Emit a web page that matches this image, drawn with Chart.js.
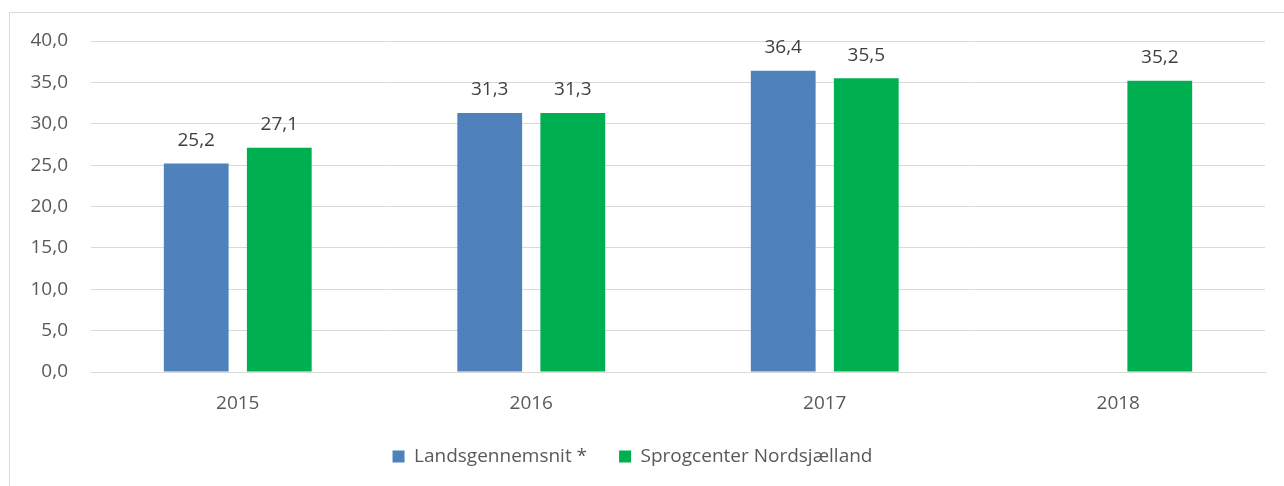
<!DOCTYPE html>
<html>
<head>
<meta charset="utf-8">
<script src="https://cdn.jsdelivr.net/npm/chart.js@4/dist/chart.umd.min.js"></script>
<style>
  html, body { margin: 0; padding: 0; background: #fff; }
  #wrap { position: relative; width: 1284px; height: 486px; overflow: hidden; }
  #frame { position: absolute; left: 9px; top: 12px; width: 1400px; height: 600px; border: 1px solid #d9d9d9; }
  #myBarChart { position: absolute; left: 0; top: 0; }
</style>
</head>
<body>
<div id="wrap">
  <div id="frame"></div>
  <canvas id="myBarChart" width="1284" height="486"></canvas>
</div>
<script>
// chart data
const years = ['2015', '2016', '2017', '2018'];
const landsgennemsnit = [25.2, 31.3, 36.4, null];
const sprogcenter = [27.1, 31.3, 35.5, 35.2];
const yTicks = [0, 5, 10, 15, 20, 25, 30, 35, 40];

const fmt = v => v.toFixed(1).replace('.', ',');
const fontFamily = '"Open Sans", "Noto Sans", sans-serif';

// labels over the bars
const valueLabels = {
  id: 'valueLabels',
  afterDatasetsDraw(chart) {
    const ctx = chart.ctx;
    ctx.save();
    ctx.font = '19px ' + fontFamily;
    ctx.fillStyle = '#404040';
    ctx.textAlign = 'center';
    ctx.textBaseline = 'middle';
    chart.data.datasets.forEach((ds, i) => {
      chart.getDatasetMeta(i).data.forEach((bar, j) => {
        if (ds.data[j] == null) return;
        ctx.fillText(fmt(ds.data[j]), bar.x, bar.y - 23);
      });
    });
    ctx.restore();
  }
};

const ctx = document.getElementById('myBarChart').getContext('2d');
const chart = new Chart(ctx, {
  type: 'bar',
  data: {
    labels: years,
    datasets: [{
      label: 'Landsgennemsnit *',
      data: landsgennemsnit,
      backgroundColor: '#4f81bd',
      categoryPercentage: 0.566,
      barPercentage: 0.78
    }, {
      label: 'Sprogcenter Nordsjælland',
      data: sprogcenter,
      backgroundColor: '#00b050',
      categoryPercentage: 0.566,
      barPercentage: 0.78
    }]
  },
  options: {
    responsive: false,
    animation: false,
    layout: { padding: { top: 41, right: 19, bottom: 10, left: 0 } },
    plugins: {
      legend: {
        position: 'bottom',
        labels: {
          color: '#595959',
          font: { family: fontFamily, size: 19 },
          boxWidth: 12,
          boxHeight: 12,
          padding: 32
        }
      },
      tooltip: { enabled: false }
    },
    scales: {
      x: {
        grid: { display: false, drawTicks: false },
        border: { color: '#d9d9d9' },
        ticks: { color: '#595959', font: { family: fontFamily, size: 19 }, padding: 20 },
        afterFit: s => { s.height = 43; }
      },
      y: {
        min: 0,
        max: 40,
        afterBuildTicks: s => { s.ticks = yTicks.map(v => ({ value: v })); },
        grid: { color: '#d9d9d9', drawTicks: false },
        border: { display: false },
        ticks: { color: '#595959', font: { family: fontFamily, size: 19 }, padding: 23, callback: v => fmt(v) },
        afterFit: s => { s.width = 91; }
      }
    }
  },
  plugins: [valueLabels]
});
</script>
</body>
</html>
